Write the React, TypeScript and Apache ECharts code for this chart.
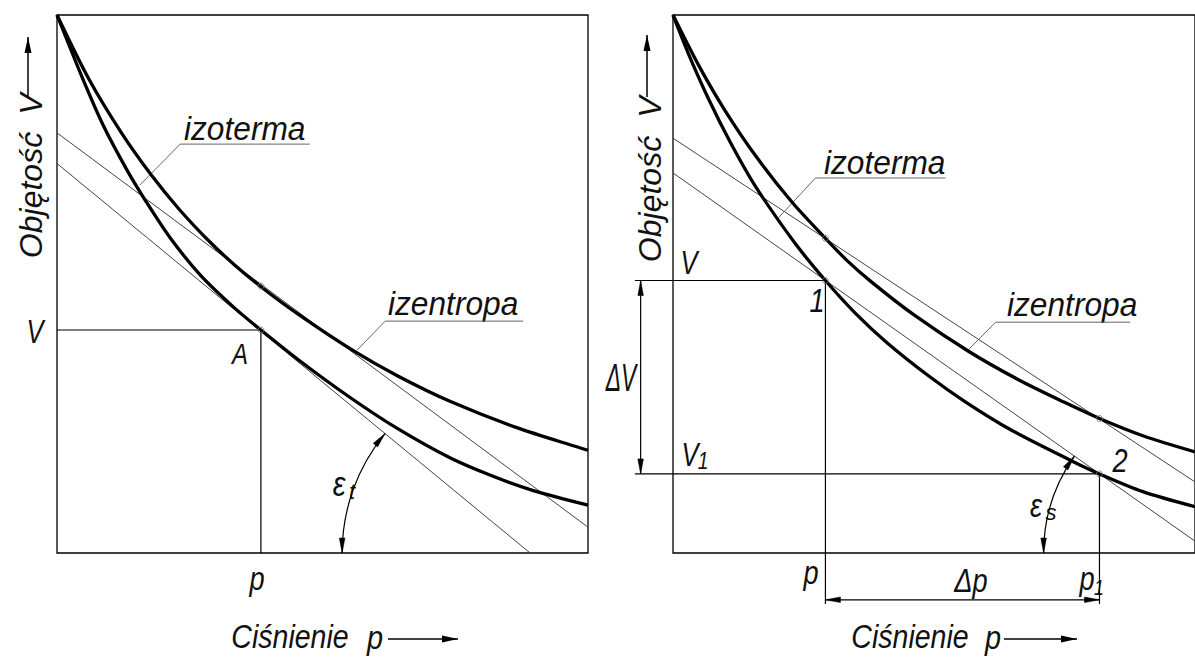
import React, { useEffect, useRef } from "react";
import * as echarts from "echarts";

const FONT = "'Liberation Sans', Arial, sans-serif";

// ---------- Left panel (p: 0..100, V: 0..100) ----------
const leftIsoP = [0, 4.7, 8.7, 13, 16.6, 21.3, 27, 33.2, 38.4, 46, 55.2, 64, 74, 82, 89.7, 100];
const leftIsoV = [100, 88.5, 79.5, 71.5, 65.6, 58.6, 51.65, 45.75, 41.45, 35.5, 28.9, 23.2, 17.7, 14.3, 11.6, 8.9];
const leftIsenP = [0, 6, 12.2, 17.8, 23, 28.8, 33.5, 38.4, 45.4, 55.8, 64, 74, 86.6, 100];
const leftIsenV = [100, 88.1, 78, 70.2, 63.9, 57.8, 53.5, 49.5, 44.4, 37.6, 33.0, 28.2, 23.3, 19.1];
const leftTangentIso = [[0, 72.4], [89.1, 0]];
const leftTangentIsen = [[0, 78.1], [100, 4.8]];
const leftPointA = [38.4, 41.45];
const leftPointIsen = [38.4, 49.6];
const leftArcCenter = [89.1, 0];
const leftArcStart = [53.7, 0];
const leftLeaderIzoterma = [[15.6, 68.4], [23.2, 76.0], [47.6, 76.0]];
const leftLeaderIzentropa = [[56.5, 37.7], [61.8, 43.1], [87.8, 43.1]];

// ---------- Right panel ----------
const rightIsoP = [0, 3, 7, 11, 15.7, 23.2, 29.2, 35, 41.1, 49, 56, 64.7, 76, 81.7, 90, 100];
const rightIsoV = [100, 92.7, 84.0, 76.3, 68.3, 57.8, 50.65, 44.5, 39.0, 32.9, 28.1, 22.9, 17.3, 14.7, 11.4, 8.6];
const rightIsenP = [0, 5, 10, 16, 22.9, 29.2, 33.3, 38, 46.1, 56.6, 66, 75, 81.7, 90, 100];
const rightIsenV = [100, 90.5, 82.2, 73.6, 65.1, 58.5, 54.4, 50.4, 44.3, 37.5, 32.3, 28.0, 25.0, 21.8, 18.8];
const rightPoint1 = [29.2, 50.65];
const rightPoint2 = [81.7, 14.7];
const rightIsenPoints = [[29.2, 58.5], [81.7, 25.0]];
const rightSecantIsen = [[0, 77.1], [100, 13.2]];
const rightSecantIso = [[0, 70.65], [100, 2.2]];
const rightArcCenter = [103.2, 0];
const rightArcStart = [71.0, 0];
const rightExtStartP = -7.3;
const rightDimVP = -6.2;
const rightDimPV = -8.7;
const rightExtEndV = -9.5;
const rightLeaderIzoterma = [[20.2, 62.3], [27.3, 69.7], [52.2, 69.7]];
const rightLeaderIzentropa = [[56.5, 37.7], [61.8, 42.9], [87.6, 42.9]];

function arrowHead(tip: number[], dir: number[], len = 15, half = 2.8) {
  const [dx, dy] = dir;
  const bx = tip[0] - dx * len;
  const by = tip[1] - dy * len;
  return {
    type: "polygon",
    shape: { points: [tip, [bx - dy * half, by + dx * half], [bx + dy * half, by - dx * half]] },
    style: { fill: "#000", stroke: "#000", lineWidth: 0.5 },
  };
}

function seg(a: number[], b: number[], color = "#000", w = 1.2) {
  return { type: "line", shape: { x1: a[0], y1: a[1], x2: b[0], y2: b[1] }, style: { stroke: color, lineWidth: w } };
}

function polyl(pts: number[][], color = "#666", w = 1) {
  return { type: "polyline", shape: { points: pts }, style: { stroke: color, lineWidth: w, fill: "none" } };
}

function angleArc(api: any, center: number[], start: number[], toward: number[]) {
  const c = api.coord(center);
  const s = api.coord(start);
  const t = api.coord(toward);
  const r = Math.hypot(s[0] - c[0], s[1] - c[1]);
  const a0 = Math.atan2(s[1] - c[1], s[0] - c[0]);
  let a1 = Math.atan2(t[1] - c[1], t[0] - c[0]);
  while (a1 < a0) a1 += Math.PI * 2;
  const p0 = [c[0] + r * Math.cos(a0), c[1] + r * Math.sin(a0)];
  const p1 = [c[0] + r * Math.cos(a1), c[1] + r * Math.sin(a1)];
  return [
    {
      type: "arc",
      shape: { cx: c[0], cy: c[1], r, startAngle: a0, endAngle: a1, clockwise: true },
      style: { stroke: "#000", fill: "none", lineWidth: 1.2 },
    },
    arrowHead(p0, [Math.sin(a0), -Math.cos(a0)]),
    arrowHead(p1, [-Math.sin(a1), Math.cos(a1)]),
  ];
}

function renderLeft(_params: any, api: any) {
  const A = api.coord(leftPointA);
  const yAxis0 = api.coord([0, leftPointA[1]]);
  const bottomA = api.coord([leftPointA[0], 0]);
  const children: any[] = [
    seg(yAxis0, A),
    seg(A, bottomA),
    polyl(leftLeaderIzoterma.map((p) => api.coord(p))),
    polyl(leftLeaderIzentropa.map((p) => api.coord(p))),
    ...angleArc(api, leftArcCenter, leftArcStart, leftTangentIso[0]),
  ];
  return { type: "group", children };
}

function renderRight(_params: any, api: any) {
  const P1 = api.coord(rightPoint1);
  const P2 = api.coord(rightPoint2);
  const extV = api.coord([rightExtStartP, rightPoint1[1]]);
  const extV1 = api.coord([rightExtStartP, rightPoint2[1]]);
  const b1 = api.coord([rightPoint1[0], rightExtEndV]);
  const b2 = api.coord([rightPoint2[0], rightExtEndV]);
  const dvTop = api.coord([rightDimVP, rightPoint1[1]]);
  const dvBot = api.coord([rightDimVP, rightPoint2[1]]);
  const dpL = api.coord([rightPoint1[0], rightDimPV]);
  const dpR = api.coord([rightPoint2[0], rightDimPV]);
  const children: any[] = [
    seg(extV, P1),
    seg(extV1, P2),
    seg(P1, b1),
    seg(P2, b2),
    seg(dvTop, dvBot),
    arrowHead(dvTop, [0, -1]),
    arrowHead(dvBot, [0, 1]),
    seg(dpL, dpR),
    arrowHead(dpL, [-1, 0]),
    arrowHead(dpR, [1, 0]),
    polyl(rightLeaderIzoterma.map((p) => api.coord(p))),
    polyl(rightLeaderIzentropa.map((p) => api.coord(p))),
    ...angleArc(api, rightArcCenter, rightArcStart, rightSecantIso[0]),
  ];
  return { type: "group", children };
}

const zip = (ps: number[], vs: number[]) => ps.map((p, i) => [p, vs[i]]);

function curve(ps: number[], vs: number[], idx: number) {
  return {
    type: "line",
    xAxisIndex: idx,
    yAxisIndex: idx,
    data: zip(ps, vs),
    smooth: 0.3,
    symbol: "none",
    showSymbol: false,
    lineStyle: { color: "#000", width: 3.3 },
    z: 5,
    silent: true,
  };
}

function thin(data: number[][], idx: number) {
  return {
    type: "line",
    xAxisIndex: idx,
    yAxisIndex: idx,
    data,
    symbol: "none",
    showSymbol: false,
    lineStyle: { color: "#444", width: 1 },
    z: 3,
    silent: true,
  };
}

function dots(data: number[][], idx: number) {
  return {
    type: "scatter",
    xAxisIndex: idx,
    yAxisIndex: idx,
    data,
    symbol: "circle",
    symbolSize: 6,
    itemStyle: { color: "rgba(0,0,0,0)", borderColor: "#777", borderWidth: 1 },
    z: 6,
    silent: true,
  };
}

function txt(text: string, x: number, y: number, size: number, opts: any = {}) {
  const align = opts.align ?? "center";
  return {
    type: "text",
    x,
    y,
    scaleX: opts.sx ?? 1,
    rotation: opts.rot ?? 0,
    silent: true,
    style: {
      text,
      fontSize: size,
      fontFamily: FONT,
      fontStyle: "italic",
      fill: "#111",
      align,
      textAlign: align,
      verticalAlign: "middle",
      textVerticalAlign: "middle",
    },
  };
}

function arrowGraphic(from: number[], to: number[]) {
  const dx = to[0] - from[0];
  const dy = to[1] - from[1];
  const l = Math.hypot(dx, dy);
  const d = [dx / l, dy / l];
  const len = 16;
  const half = 3.5;
  const bx = to[0] - d[0] * len;
  const by = to[1] - d[1] * len;
  return [
    { type: "line", silent: true, shape: { x1: from[0], y1: from[1], x2: to[0], y2: to[1] }, style: { stroke: "#000", lineWidth: 1.5 } },
    {
      type: "polygon",
      silent: true,
      shape: { points: [to, [bx - d[1] * half, by + d[0] * half], [bx + d[1] * half, by - d[0] * half]] },
      style: { fill: "#000" },
    },
  ];
}

function buildOption() {
  const axisCommon = {
    type: "value",
    min: 0,
    max: 100,
    show: false,
    splitLine: { show: false },
  };
  const graphic: any[] = [
    // left axis titles
    txt("Objętość", 31, 195, 32, { rot: Math.PI / 2 }),
    txt("V", 31, 104, 32, { rot: Math.PI / 2 }),
    ...arrowGraphic([28, 97], [28, 37]),
    txt("Ciśnienie", 290, 637, 34, { sx: 0.84 }),
    txt("p", 375, 637, 34, { sx: 0.85 }),
    ...arrowGraphic([388, 639], [458, 639]),
    // left labels
    txt("izoterma", 184, 129, 33, { align: "left", sx: 0.96 }),
    txt("izentropa", 388, 304, 33, { align: "left", sx: 0.96 }),
    txt("V", 35, 331, 34, { sx: 0.75 }),
    txt("A", 240, 354, 30, { sx: 0.8 }),
    txt("p", 257, 578, 34, { sx: 0.8 }),
    txt("ε", 339, 483, 36, { sx: 0.8 }),
    txt("t", 352, 491, 22),
    // right axis titles
    txt("Objętość", 650, 199, 32, { rot: Math.PI / 2 }),
    txt("V", 650, 107, 32, { rot: Math.PI / 2 }),
    ...arrowGraphic([647, 97], [647, 35]),
    txt("Ciśnienie", 910, 637, 34, { sx: 0.84 }),
    txt("p", 993, 637, 34, { sx: 0.85 }),
    ...arrowGraphic([1004, 639], [1077, 639]),
    // right labels
    txt("izoterma", 824, 163, 33, { align: "left", sx: 0.96 }),
    txt("izentropa", 1007, 305, 33, { align: "left", sx: 0.96 }),
    txt("V", 689, 262, 34, { sx: 0.75 }),
    txt("V", 690, 454, 34, { sx: 0.75 }),
    txt("1", 703, 461, 24, { sx: 0.8 }),
    txt("1", 817, 300, 34, { sx: 0.8 }),
    txt("2", 1120, 460, 34, { sx: 0.8 }),
    txt("p", 811, 572, 34, { sx: 0.8 }),
    txt("Δp", 971, 580, 34, { sx: 0.8 }),
    txt("p", 1087, 578, 34, { sx: 0.8 }),
    txt("1", 1099, 587, 22, { sx: 0.8 }),
    txt("ε", 1036, 505, 34, { sx: 0.8 }),
    txt("s", 1051, 512, 22),
    txt("ΔV", 621, 378, 38, { sx: 0.6 }),
  ];

  return {
    animation: false,
    backgroundColor: "#fff",
    grid: [
      { left: 57, top: 15, width: 531, height: 538, show: true, borderColor: "#000", borderWidth: 1.3, backgroundColor: "transparent" },
      { left: 673, top: 15, width: 531, height: 538, show: true, borderColor: "#000", borderWidth: 1.3, backgroundColor: "transparent" },
    ],
    xAxis: [
      { ...axisCommon, gridIndex: 0 },
      { ...axisCommon, gridIndex: 1 },
    ],
    yAxis: [
      { ...axisCommon, gridIndex: 0 },
      { ...axisCommon, gridIndex: 1 },
    ],
    series: [
      thin(leftTangentIso, 0),
      thin(leftTangentIsen, 0),
      curve(leftIsoP, leftIsoV, 0),
      curve(leftIsenP, leftIsenV, 0),
      dots([leftPointA, leftPointIsen], 0),
      {
        type: "custom",
        xAxisIndex: 0,
        yAxisIndex: 0,
        data: [[0, 0]],
        renderItem: renderLeft,
        silent: true,
        z: 4,
      },
      thin(rightSecantIso, 1),
      thin(rightSecantIsen, 1),
      curve(rightIsoP, rightIsoV, 1),
      curve(rightIsenP, rightIsenV, 1),
      dots([rightPoint1, rightPoint2, ...rightIsenPoints], 1),
      {
        type: "custom",
        xAxisIndex: 1,
        yAxisIndex: 1,
        data: [[0, 0]],
        renderItem: renderRight,
        silent: true,
        z: 4,
      },
    ],
    graphic,
  };
}

export default function App() {
  const ref = useRef<HTMLDivElement>(null);
  useEffect(() => {
    document.body.style.margin = "0";
    if (!ref.current) return;
    const chart = echarts.init(ref.current, undefined, { renderer: "svg" });
    chart.setOption(buildOption() as any);
    return () => chart.dispose();
  }, []);
  return <div ref={ref} style={{ width: 1195, height: 657, background: "#fff" }} />;
}
